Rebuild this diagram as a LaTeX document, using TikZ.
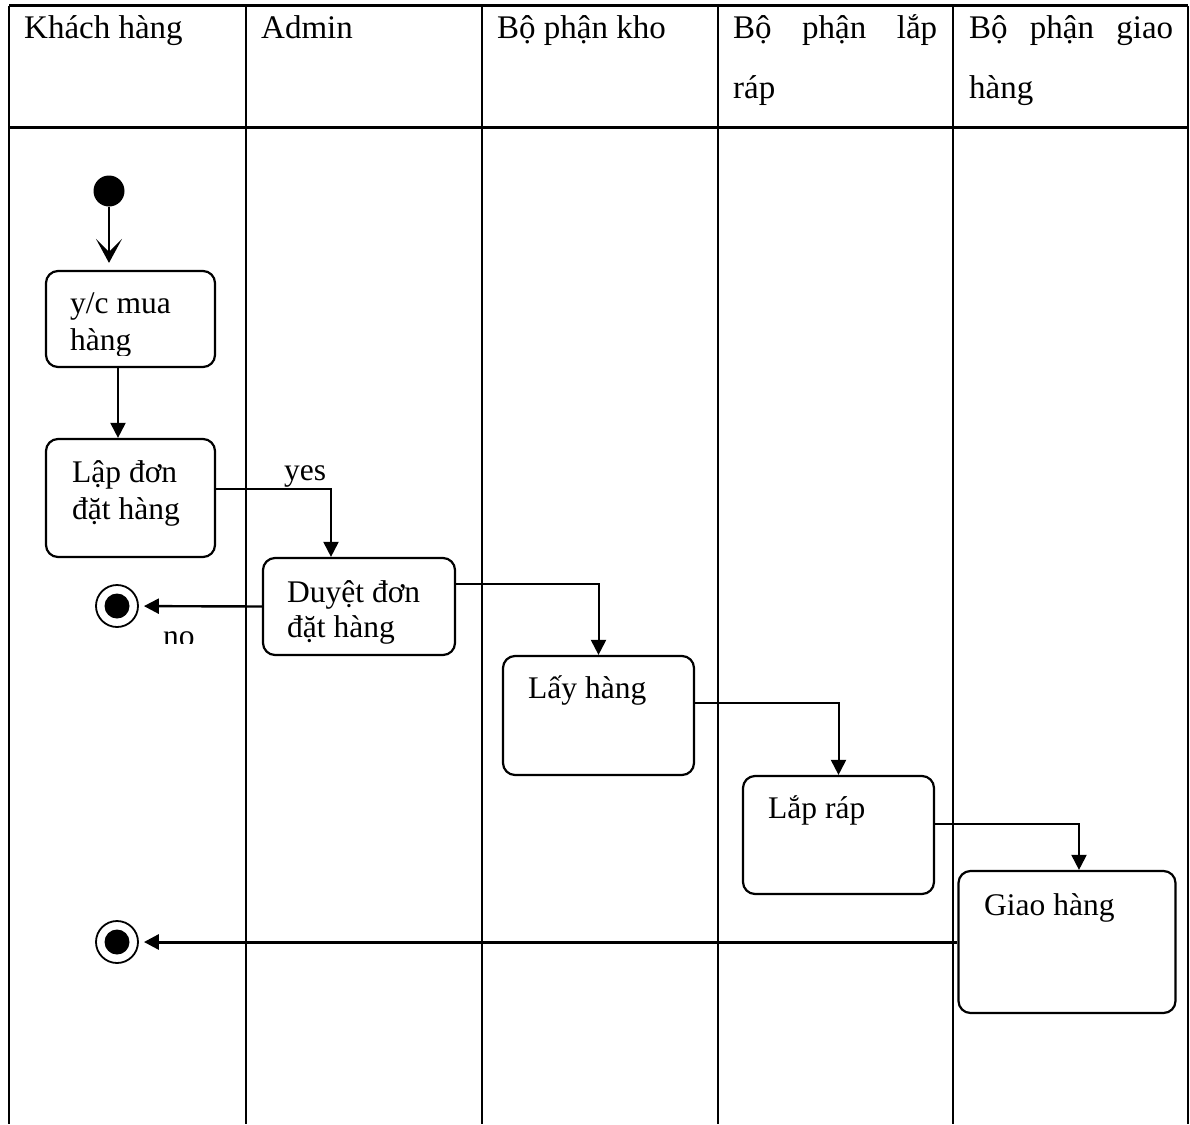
\documentclass[tikz,border=0pt]{standalone}
\usepackage{fontspec}
\setmainfont{Liberation Serif}
\usetikzlibrary{arrows.meta}
\begin{document}
\begin{tikzpicture}[x=1pt,y=-1pt,
  rule/.style={line width=2.3pt},
  hrule/.style={line width=3pt},
  actbox/.style={draw, line width=2.2pt, rounded corners=12pt, inner sep=0pt},
  body/.style={font=\fontsize{31.5}{37}\selectfont, inner sep=0pt, anchor=base west},
  head/.style={font=\fontsize{33}{40}\selectfont, inner sep=0pt, anchor=base west},
  flow/.style={line width=2pt, -{Triangle[length=15pt,width=15pt]}},
  startdot/.style={circle, fill, minimum size=31pt, inner sep=0pt},
  enddot/.style={circle, draw, line width=1.8pt, minimum size=42pt, inner sep=0pt,
    path picture={\fill (path picture bounding box.center) circle (12.5pt);}}
]
\useasboundingbox (0,0) rectangle (1190,1124);

% swimlane grid
\draw[hrule] (9,6) -- (1188,6);
\draw[hrule] (9,127) -- (1188,127);
\foreach \x in {9,246,482,718,953,1188}
  \draw[rule] (\x,6) -- (\x,1124);

% lane headers
\node[head] (hKH) at (24,39) {Khách hàng};
\node[head] (hAD) at (261,39) {Admin};
\node[head] (hKho) at (497,39) {Bộ phận kho};
\node[head] (hLR1) at (733,39) {\makebox[204pt][s]{Bộ phận lắp}};
\node[head] (hLR2) at (733,98) {ráp};
\node[head] (hGH1) at (969,39) {\makebox[204pt][s]{Bộ phận giao}};
\node[head] (hGH2) at (969,98) {hàng};

% initial and final states
\node[startdot] (start) at (109,191) {};
\node[enddot] (end1) at (117,606) {};
\node[enddot] (end2) at (117,942) {};

% activities
\node[actbox, minimum width=169pt, minimum height=96pt] (req) at (130.5,319) {};
\node[actbox, minimum width=169pt, minimum height=118pt] (lap) at (130.5,498) {};
\node[actbox, minimum width=192pt, minimum height=97pt] (duyet) at (359,606.5) {};
\node[actbox, minimum width=191pt, minimum height=119pt] (lay) at (598.5,715.5) {};
\node[actbox, minimum width=191pt, minimum height=118pt] (lap2) at (838.5,835) {};
\node[actbox, minimum width=217pt, minimum height=142pt] (giao) at (1067,942) {};

% activity texts
\begin{scope}
  \clip (40,270) rectangle (220,355);
  \node[body] (tReq1) at (70,313) {y/c mua};
  \node[body] (tReq2) at (70,350) {hàng};
\end{scope}
\node[body] (tLap1) at (72,482) {Lập đơn};
\node[body] (tLap2) at (72,519) {đặt hàng};
\begin{scope}
  \clip (260,560) rectangle (460,644);
  \node[body] (tDuy1) at (287,602) {Duyệt đơn};
  \node[body] (tDuy2) at (287,637) {đặt hàng};
\end{scope}
\node[body] (tLay) at (528,698) {Lấy hàng};
\node[body] (tLap3) at (768,818) {Lắp ráp};
\node[body] (tGiao) at (984,915) {Giao hàng};

% guard labels
\node[body] (yes) at (284,480) {yes};
\begin{scope}
  \clip (150,620) rectangle (220,643);
  \node[body] (no) at (163,646) {no};
\end{scope}

% control flow
\draw[line width=2.4pt, -{Stealth[length=24pt,width=26pt,inset=13pt]}, shorten >=7pt]
  (start) -- (start |- req.north);
\draw[flow] ([xshift=-12.5pt]req.south) -- ([xshift=-12.5pt]lap.north);
\draw[flow] ([yshift=9pt]lap.east) -| ([xshift=-28pt]duyet.north);
\draw[flow, line width=2.4pt, shorten >=5pt] (duyet.west) -- (end1);
\draw[flow] ([yshift=22.5pt]duyet.east) -| (lay.north);
\draw[flow] ([yshift=12.5pt]lay.east) -| (lap2.north);
\draw[flow] ([yshift=11pt]lap2.east) -| ([xshift=12pt]giao.north);
\draw[flow, line width=3pt, shorten >=5pt] (giao.west) -- (end2);
\end{tikzpicture}
\end{document}
